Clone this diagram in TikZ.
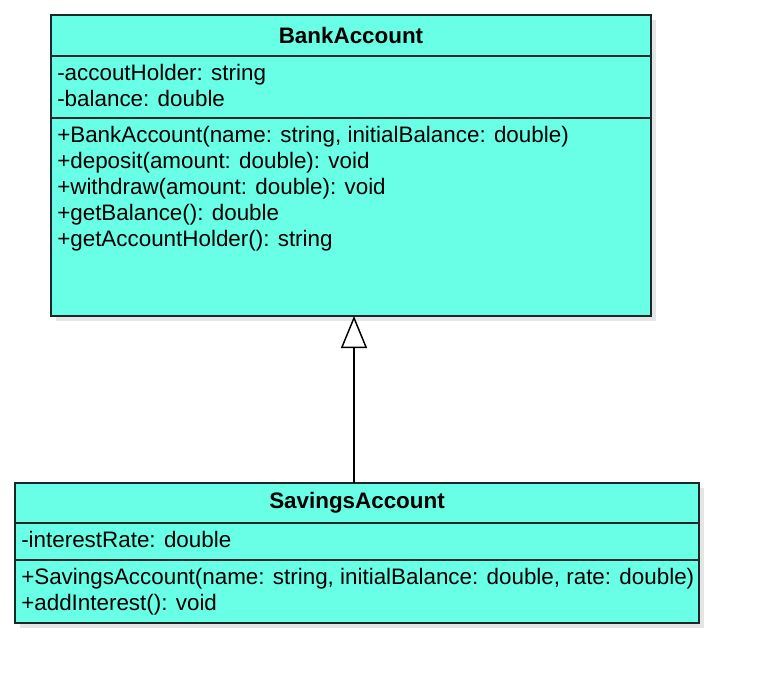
\documentclass[tikz,border=0pt]{standalone}
\usepackage{fontspec}
\setmainfont{Liberation Sans}
\usepackage{xcolor}
\usepackage{tikz}
\usetikzlibrary{arrows.meta, positioning, calc, shadows}
\definecolor{clsfill}{RGB}{104,255,230}
\definecolor{clsline}{RGB}{25,40,40}

\begin{document}
\begin{tikzpicture}[x=0.75pt,y=-0.75pt]
\tikzset{
  cls/.style={rectangle,draw=clsline,fill=clsfill,line width=1.1pt,outer sep=0pt,inner sep=0pt,
    drop shadow={shadow xshift=3.5pt,shadow yshift=-3.5pt,fill=black!10,opacity=1},
    font=\fontsize{16.8}{19.5}\selectfont\bfseries},
  mem/.style={align=left,inner xsep=4.5pt,inner ysep=6pt,font=\fontsize{16.8}{19.5}\selectfont},
  ar/.style={-{Triangle[length=24pt,width=19.5pt,fill=white]},line width=1.1pt,draw=black}
}
\useasboundingbox (0,0) rectangle (760,684);
% BankAccount
\node[cls,minimum width=450pt,minimum height=30.75pt] (bankTitle) at (351,35.5) {BankAccount};
\node[cls,minimum width=450pt,minimum height=46.5pt,below=0pt of bankTitle] (bankAttr) {};
\node[cls,minimum width=450pt,minimum height=148.5pt,below=0pt of bankAttr] (bankOps) {};
\node[mem,anchor=north west] (bankAttrTxt) at (bankAttr.north west) {-accoutHolder: string\\-balance: double};
\node[mem,anchor=north west] (bankOpsTxt) at (bankOps.north west) {+BankAccount(name: string, initialBalance: double)\\+deposit(amount: double): void\\+withdraw(amount: double): void\\+getBalance(): double\\+getAccountHolder(): string};
% SavingsAccount
\node[cls,minimum width=513pt,minimum height=30pt] (savTitle) at (357,503) {SavingsAccount};
\node[cls,minimum width=513pt,minimum height=27.75pt,below=0pt of savTitle] (savAttr) {};
\node[cls,minimum width=513pt,minimum height=47.25pt,below=0pt of savAttr] (savOps) {};
\node[mem,anchor=north west] (savAttrTxt) at (savAttr.north west) {-interestRate: double};
\node[mem,anchor=north west] (savOpsTxt) at (savOps.north west) {+SavingsAccount(name: string, initialBalance: double, rate: double)\\+addInterest(): void};
% generalization
\coordinate (gen) at (354,400);
\draw[ar] (savTitle.north -| gen) -- (bankOps.south -| gen);
\end{tikzpicture}
\end{document}
